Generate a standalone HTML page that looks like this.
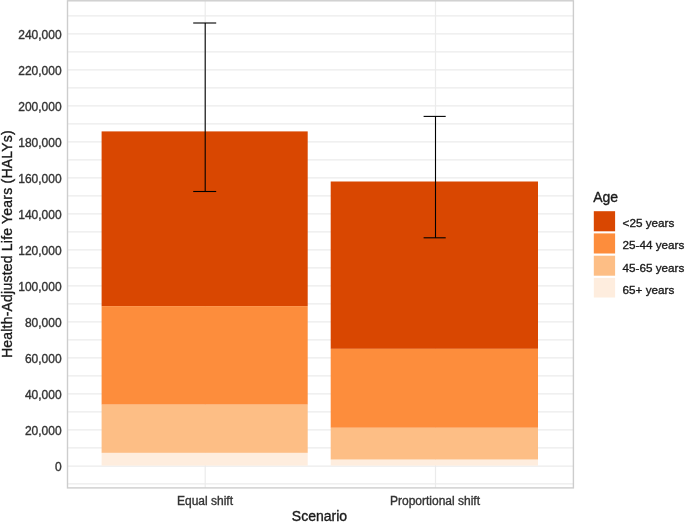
<!DOCTYPE html>
<html><head><meta charset="utf-8"><style>
html,body{margin:0;padding:0;background:#fff;}
body{width:685px;height:522px;overflow:hidden;}
svg{display:block;filter:blur(0.45px);}
text{font-family:"Liberation Sans",sans-serif;stroke-width:0.35px;}
.tk{font-size:12px;fill:#333333;stroke:#333333;}
.ti{font-size:14px;fill:#1a1a1a;stroke:#1a1a1a;}
.lg{font-size:11.7px;fill:#1a1a1a;stroke:#1a1a1a;}
</style></head><body>
<svg width="685" height="522" viewBox="0 0 685 522">
<rect x="0" y="0" width="685" height="522" fill="#fff"/>
<g stroke="#ebebeb" stroke-width="1.2"><line x1="67.5" y1="483.80" x2="573.4" y2="483.80"/><line x1="67.5" y1="466.20" x2="573.4" y2="466.20"/><line x1="67.5" y1="447.80" x2="573.4" y2="447.80"/><line x1="67.5" y1="429.80" x2="573.4" y2="429.80"/><line x1="67.5" y1="411.80" x2="573.4" y2="411.80"/><line x1="67.5" y1="393.80" x2="573.4" y2="393.80"/><line x1="67.5" y1="375.80" x2="573.4" y2="375.80"/><line x1="67.5" y1="357.80" x2="573.4" y2="357.80"/><line x1="67.5" y1="339.80" x2="573.4" y2="339.80"/><line x1="67.5" y1="321.80" x2="573.4" y2="321.80"/><line x1="67.5" y1="303.80" x2="573.4" y2="303.80"/><line x1="67.5" y1="285.80" x2="573.4" y2="285.80"/><line x1="67.5" y1="267.80" x2="573.4" y2="267.80"/><line x1="67.5" y1="249.80" x2="573.4" y2="249.80"/><line x1="67.5" y1="231.80" x2="573.4" y2="231.80"/><line x1="67.5" y1="213.80" x2="573.4" y2="213.80"/><line x1="67.5" y1="195.80" x2="573.4" y2="195.80"/><line x1="67.5" y1="177.80" x2="573.4" y2="177.80"/><line x1="67.5" y1="159.80" x2="573.4" y2="159.80"/><line x1="67.5" y1="141.80" x2="573.4" y2="141.80"/><line x1="67.5" y1="123.80" x2="573.4" y2="123.80"/><line x1="67.5" y1="105.80" x2="573.4" y2="105.80"/><line x1="67.5" y1="87.80" x2="573.4" y2="87.80"/><line x1="67.5" y1="69.80" x2="573.4" y2="69.80"/><line x1="67.5" y1="51.80" x2="573.4" y2="51.80"/><line x1="67.5" y1="33.80" x2="573.4" y2="33.80"/><line x1="67.5" y1="15.80" x2="573.4" y2="15.80"/><line x1="205.2" y1="0.8" x2="205.2" y2="487.9"/><line x1="435.5" y1="0.8" x2="435.5" y2="487.9"/></g>
<rect x="101.6" y="131.4" width="206.10" height="174.70" fill="#D94701"/><rect x="101.6" y="306.1" width="206.10" height="98.60" fill="#FD8D3C"/><rect x="101.6" y="404.7" width="206.10" height="48.20" fill="#FDBE85"/><rect x="101.6" y="452.9" width="206.10" height="12.70" fill="#FEEDDE"/>
<rect x="330.7" y="181.5" width="207.30" height="167.35" fill="#D94701"/><rect x="330.7" y="348.85" width="207.30" height="78.95" fill="#FD8D3C"/><rect x="330.7" y="427.8" width="207.30" height="31.90" fill="#FDBE85"/><rect x="330.7" y="459.7" width="207.30" height="5.90" fill="#FEEDDE"/>
<g stroke="#000" stroke-width="1.1"><line x1="205.2" y1="23.0" x2="205.2" y2="191.5"/><line x1="193.2" y1="23.0" x2="216.2" y2="23.0"/><line x1="193.2" y1="191.5" x2="216.2" y2="191.5"/><line x1="435.5" y1="116.4" x2="435.5" y2="237.8"/><line x1="423.6" y1="116.4" x2="445.7" y2="116.4"/><line x1="423.6" y1="237.8" x2="445.7" y2="237.8"/></g>
<rect x="67.5" y="0.8" width="505.90" height="487.10" fill="none" stroke="#cdcdcd" stroke-width="1.4"/>
<g class="tk"><text x="61.6" y="470.80" text-anchor="end">0</text><text x="61.6" y="434.80" text-anchor="end">20,000</text><text x="61.6" y="398.80" text-anchor="end">40,000</text><text x="61.6" y="362.80" text-anchor="end">60,000</text><text x="61.6" y="326.80" text-anchor="end">80,000</text><text x="61.6" y="290.80" text-anchor="end">100,000</text><text x="61.6" y="254.80" text-anchor="end">120,000</text><text x="61.6" y="218.80" text-anchor="end">140,000</text><text x="61.6" y="182.80" text-anchor="end">160,000</text><text x="61.6" y="146.80" text-anchor="end">180,000</text><text x="61.6" y="110.80" text-anchor="end">200,000</text><text x="61.6" y="74.80" text-anchor="end">220,000</text><text x="61.6" y="38.80" text-anchor="end">240,000</text></g>
<g class="tk" text-anchor="middle"><text x="205" y="504.7">Equal shift</text><text x="435" y="504.7">Proportional shift</text></g>
<text class="ti" x="319.5" y="521.2" text-anchor="middle">Scenario</text>
<text class="ti" transform="translate(11.8,244.1) rotate(-90)" letter-spacing="0.21" text-anchor="middle">Health-Adjusted Life Years (HALYs)</text>
<text class="ti" x="593.2" y="202.0">Age</text>
<rect x="593.8" y="211.2" width="21.3" height="20.10" fill="#D94701"/><text class="lg" x="622.6" y="227.05">&lt;25 years</text>
<rect x="593.8" y="233.4" width="21.3" height="20.10" fill="#FD8D3C"/><text class="lg" x="622.6" y="249.25">25-44 years</text>
<rect x="593.8" y="255.7" width="21.3" height="20.00" fill="#FDBE85"/><text class="lg" x="622.6" y="271.50">45-65 years</text>
<rect x="593.8" y="277.9" width="21.3" height="19.60" fill="#FEEDDE"/><text class="lg" x="622.6" y="293.50">65+ years</text>
</svg>
</body></html>
